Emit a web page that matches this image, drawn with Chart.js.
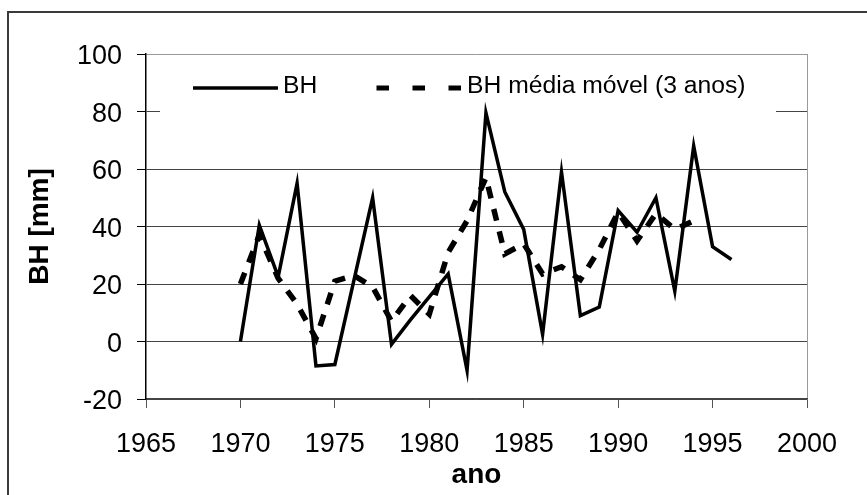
<!DOCTYPE html>
<html>
<head>
<meta charset="utf-8">
<script src="https://cdn.jsdelivr.net/npm/chart.js@4/dist/chart.umd.min.js"></script>
<style>
  html, body { margin: 0; padding: 0; background: #fff; }
  #wrap { width: 867px; height: 495px; }
</style>
</head>
<body>
<div id="wrap"><canvas id="grafico"></canvas></div>
<script>
// dados
const anos = [1970, 1971, 1972, 1973, 1974, 1975, 1976, 1977, 1978, 1979, 1980, 1981, 1982,
              1983, 1984, 1985, 1986, 1987, 1988, 1989, 1990, 1991, 1992, 1993, 1994, 1995, 1996];
const bh = [0, 40.5, 22.5, 55, -8.5, -8, 21, 50, -1, 7.5, 15.5, 23.5, -10,
            79.5, 52, 39, 2.5, 59, 9, 12, 45.5, 38, 50, 17.5, 68, 33, 28.5];
const anosMedia = [1970, 1971, 1972, 1973, 1974, 1975, 1976, 1977, 1978, 1979, 1980, 1981, 1982,
                   1983, 1984, 1985, 1986, 1987, 1988, 1989, 1990, 1991, 1992, 1993, 1994];
const bhMedia = [20, 37, 22, 13, 1, 21, 23, 19, 7, 16, 9.5, 31, 42,
                 57, 30.5, 34, 23.5, 26, 21.5, 32, 45, 35, 44.5, 39, 42];
const ticksX = [1965, 1970, 1975, 1980, 1985, 1990, 1995, 2000];
const ticksY = [-20, 0, 20, 40, 60, 80, 100];

const rotulos = ['BH', 'BH média móvel (3 anos)'];
const fonte = "'Liberation Sans', Arial, sans-serif";

// moldura externa e fundo branco
const moldura = {
    id: 'moldura',
    beforeDraw(chart) {
        const ctx = chart.ctx;
        ctx.save();
        ctx.fillStyle = '#fff';
        ctx.fillRect(0, 0, chart.width, chart.height);
        ctx.strokeStyle = '#3a3a3a';
        ctx.lineWidth = 2;
        ctx.strokeRect(8, 12, chart.width + 20, chart.height + 20);
        ctx.restore();
    }
};

// legenda desenhada à mão, com fundo branco sobre a grade
const legenda = {
    id: 'legenda',
    beforeDatasetsDraw(chart) {
        const ctx = chart.ctx;
        ctx.save();
        ctx.fillStyle = '#fff';
        ctx.fillRect(160, 56, 616, 56);

        ctx.strokeStyle = '#000';
        ctx.lineWidth = 3.5;
        ctx.beginPath();
        ctx.moveTo(193, 88);
        ctx.lineTo(278, 88);
        ctx.stroke();

        ctx.lineWidth = 5;
        ctx.setLineDash([12.5, 23.5]);
        ctx.beginPath();
        ctx.moveTo(376.5, 88);
        ctx.lineTo(462, 88);
        ctx.stroke();
        ctx.setLineDash([]);

        ctx.fillStyle = '#000';
        ctx.font = '24.7px ' + fonte;
        ctx.textBaseline = 'middle';
        ctx.fillText(rotulos[0], 283, 86);
        ctx.fillText(rotulos[1], 467, 86);
        ctx.restore();
    }
};

new Chart(document.getElementById('grafico'), {
    type: 'line',
    data: {
        datasets: [{
            label: rotulos[0],
            data: anos.map((a, i) => ({ x: a, y: bh[i] })),
            borderColor: '#000',
            borderWidth: 3.5,
            borderJoinStyle: 'miter',
            pointRadius: 0,
            tension: 0,
            fill: false
        }, {
            label: rotulos[1],
            data: anosMedia.map((a, i) => ({ x: a, y: bhMedia[i] })),
            borderColor: '#000',
            borderWidth: 5.5,
            borderDash: [12, 11],
            borderCapStyle: 'butt',
            pointRadius: 0,
            tension: 0,
            fill: false
        }]
    },
    options: {
        responsive: true,
        maintainAspectRatio: false,
        animation: false,
        events: [],
        layout: { padding: { top: 54, right: 60, left: 0, bottom: 0 } },
        plugins: {
            legend: { display: false },
            tooltip: { enabled: false }
        },
        scales: {
            x: {
                type: 'linear',
                min: 1965,
                max: 2000,
                afterFit: s => { s.height = 96; },
                afterBuildTicks: s => { s.ticks = ticksX.map(v => ({ value: v })); },
                ticks: {
                    color: '#000',
                    font: { family: fonte, size: 27 },
                    padding: 20,
                    maxRotation: 0,
                    callback: v => String(v)
                },
                grid: {
                    color: c => (c.tick && c.tick.value === 2000) ? '#999' : 'rgba(0,0,0,0)',
                    tickColor: '#555',
                    tickLength: 9
                },
                border: { color: '#444', width: 1.5 },
                title: {
                    display: true,
                    text: 'ano',
                    color: '#000',
                    font: { family: fonte, size: 28, weight: 'bold' },
                    padding: { top: 0, bottom: 3 }
                }
            },
            y: {
                min: -20,
                max: 100,
                afterFit: s => { s.width = 146; },
                afterBuildTicks: s => { s.ticks = ticksY.map(v => ({ value: v })); },
                ticks: {
                    color: '#000',
                    font: { family: fonte, size: 27 },
                    padding: 15,
                    labelOffset: 3
                },
                grid: {
                    color: c => (c.tick && c.tick.value === 100) ? '#999' : '#444',
                    tickColor: '#000',
                    tickLength: 9
                },
                border: { color: '#000', width: 1.5 },
                title: {
                    display: true,
                    text: 'BH [mm]',
                    color: '#000',
                    font: { family: fonte, size: 28, weight: 'bold' },
                    padding: { top: 23, bottom: 0 }
                }
            }
        }
    },
    plugins: [moldura, legenda]
});
</script>
</body>
</html>
